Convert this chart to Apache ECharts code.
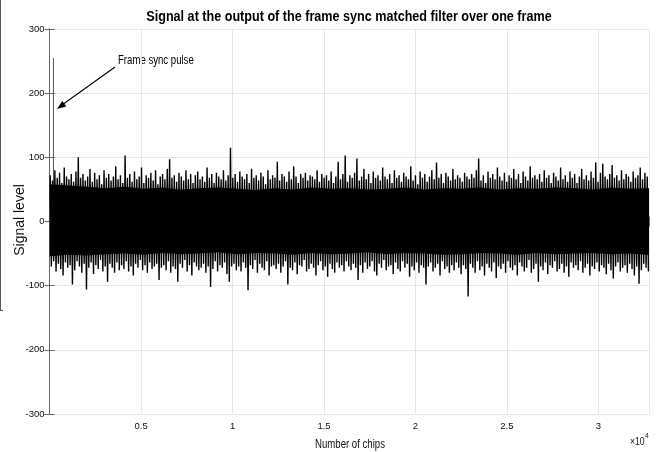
<!DOCTYPE html>
<html>
<head>
<meta charset="utf-8">
<script src="https://cdn.jsdelivr.net/npm/echarts@6/dist/echarts.min.js"></script>
<style>
html,body{margin:0;padding:0;background:#fff;}
#c{width:656px;height:452px;}
</style>
</head>
<body>
<div id="c"></div>
<script>
// ---- data ----
const frameLength = 32768;            // chips in one frame
const binChips = 128;                 // chips per envelope bin
// upper peak of the matched-filter output in each 128-chip bin
const peakHigh = [
   72, 64, 80, 68, 76, 60, 84, 70, 66, 74, 62, 78,100, 68, 74, 64,
   70, 82, 62, 76, 66, 72, 58, 80, 68, 74, 64, 70, 86, 66, 72, 60,
  103, 68, 74, 62, 78, 66, 70, 84, 60, 72, 68, 76, 64, 80, 58, 70,
   74, 66, 82, 97, 68, 72, 62, 76, 70, 64, 80, 66, 74, 60, 72, 78,
   66, 70, 62, 84, 68, 74, 60, 76, 70, 66, 80, 64, 72,115, 68, 74,
   62, 78, 70, 66, 74, 60, 82, 68, 72, 64, 76, 70, 58, 80, 66, 72,
   68, 93, 64, 74, 70, 62, 78, 66, 86, 70, 60, 74, 68, 76, 64, 72,
   70, 66, 80, 62, 74, 68, 72, 64, 78, 60, 70, 93, 66, 74,103, 62,
   72, 68, 76, 98, 64, 70, 82, 66, 74, 60, 78, 68, 72, 64, 84, 70,
   66, 74, 60, 80, 68, 72, 62, 76, 70, 66, 86, 64, 72, 58, 78, 68,
   74, 62, 70, 80, 66, 92, 68, 74, 60, 76, 70, 64, 82, 66, 72, 68,
   62, 76, 70, 66, 74, 68, 80, 98, 64, 72, 60, 78, 68, 74, 66, 84,
   70, 64, 76, 62, 72, 68, 82, 66, 74, 60, 78, 70, 64, 86, 68, 72,
   66, 74, 62, 80, 68, 72, 60, 76, 70, 64, 84, 66, 72, 62, 78, 68,
   74, 60, 70, 82, 66, 72, 64, 78, 68, 92, 62, 76, 90, 70, 66, 74,
   88, 68, 72, 64, 80, 66, 74, 70, 62, 78, 68, 72, 84, 66, 76, 70
];
// lower trough in each bin
const peakLow = [
   -70, -62, -78, -66, -74, -84, -64, -72, -68, -98, -76, -62, -70, -80, -66,-106,
   -72, -64, -82, -68, -74, -60, -78, -70, -94, -66, -72, -80, -64, -76, -68, -74,
   -62, -78, -70, -84, -66, -72, -60, -76, -68, -80, -64, -74, -70, -66, -91, -72,
   -68, -76, -62, -80, -70, -74, -94, -66, -72, -60, -78, -68, -84, -64, -70, -76,
   -72, -66, -80, -70,-102, -74, -62, -78, -68, -72, -64, -82, -94, -70, -66, -76,
   -70, -78, -64, -72,-107, -68, -74, -60, -80, -66, -72, -76, -62, -84, -70, -68,
   -74, -66, -80, -70, -62, -98, -72, -76, -64, -82, -68, -70, -60, -78, -74, -66,
   -72, -84, -68, -62, -76, -70, -86, -66, -74, -80, -64, -72, -68, -78, -62, -70,
   -76, -66, -72, -91, -68, -80, -64, -74, -70, -62, -78, -84, -66, -72, -60, -76,
   -70, -68, -82, -64, -74, -78, -62, -72, -66, -86, -70, -76, -64, -80, -68, -72,
   -98, -70, -64, -78, -72, -66, -84, -62, -74, -70, -80, -68, -76, -64, -72, -82,
   -68, -74,-117, -66, -72, -80, -62, -76, -70, -84, -66, -72, -78, -64, -88, -70,
   -74, -66, -80, -62, -72, -76, -68, -84, -64, -70, -78, -72, -60, -80, -74, -66,
   -94, -70, -76, -64, -82, -68, -72, -62, -78, -74, -66, -80, -70, -86, -64, -72,
   -68, -76, -62, -80, -72, -66, -84, -70, -74, -64, -78, -68, -72, -82, -66, -76,
   -89, -70, -64, -78, -72, -68, -80, -66, -74, -84, -70, -97, -76, -66, -72, -78
];
// dense core of the noise band, sampled every 1024 chips
const coreChips = [0,1024,2048,3072,4096,5120,6144,7168,8192,9216,10240,11264,12288,13312,14336,15360,16384,17408,18432,19456,20480,21504,22528,23552,24576,25600,26624,27648,28672,29696,30720,31744,32768];
const coreHigh = [58,56,54,52,54,51,53,50,52,53,51,49,52,50,53,51,52,50,51,53,50,52,51,53,50,52,51,53,52,50,53,51,52];
const coreLow  = [-54,-52,-53,-51,-50,-52,-49,-51,-50,-48,-51,-49,-50,-52,-49,-51,-50,-48,-51,-49,-50,-52,-51,-49,-50,-52,-49,-51,-50,-49,-51,-50,-52];
// frame sync pulse
const pulseChip = [210];
const pulseValue = [255];
// axis ticks
const yTicks = [-300,-200,-100,0,100,200,300];
const xTickStep = 5000;

// ---- build series data ----
const noise = [];
for (let i = 0; i < peakHigh.length; i++) {
  noise.push([(i + 0.25) * binChips, peakHigh[i]]);
  noise.push([(i + 0.75) * binChips, peakLow[i]]);
}
const coreTop = coreChips.map((c, i) => [c, coreHigh[i]]);
const coreBot = coreChips.map((c, i) => [c, coreLow[i]]);
const pulse = pulseChip.map((c, i) => [c, pulseValue[i]]);

const FN = "'Liberation Sans',Arial,sans-serif";
const chart = echarts.init(document.getElementById('c'), null, {renderer: 'canvas'});
const L = 49.6, T = 29, R = 649, B = 414;
const axisCommon = {
  axisLine: {show: true, lineStyle: {color: '#666', width: 1}},
  axisTick: {show: true, inside: true, length: 5, lineStyle: {color: '#666'}}
};
chart.setOption({
  animation: false,
  backgroundColor: '#fff',
  grid: {left: L, top: T, right: 656 - R, bottom: 452 - B, containLabel: false},
  xAxis: [Object.assign({
    type: 'value', min: 0, max: frameLength, interval: xTickStep, position: 'bottom',
    axisLabel: {
      color: '#111', fontFamily: FN, fontSize: 9.5, margin: 7,
      formatter: v => (v === 0 || v % xTickStep !== 0) ? '' : String(v / 10000)
    },
    splitLine: {show: true, lineStyle: {color: '#e6e6e6', width: 1}}
  }, axisCommon), Object.assign({
    type: 'value', min: 0, max: frameLength, interval: xTickStep, position: 'top',
    axisLabel: {show: false}, splitLine: {show: false}
  }, axisCommon)],
  yAxis: [Object.assign({
    type: 'value', min: yTicks[0], max: yTicks[yTicks.length - 1], interval: 100, position: 'left',
    axisLabel: {color: '#111', fontFamily: FN, fontSize: 9.5, margin: 5},
    splitLine: {show: true, lineStyle: {color: '#e6e6e6', width: 1}}
  }, axisCommon), Object.assign({
    type: 'value', min: yTicks[0], max: yTicks[yTicks.length - 1], interval: 100, position: 'right',
    axisLabel: {show: false}, splitLine: {show: false}
  }, axisCommon)],
  series: [
    {type: 'line', data: coreTop, symbol: 'none', lineStyle: {width: 0}, areaStyle: {color: '#000', opacity: 1, origin: 0}, silent: true},
    {type: 'line', data: coreBot, symbol: 'none', lineStyle: {width: 0}, areaStyle: {color: '#000', opacity: 1, origin: 0}, silent: true},
    {type: 'line', data: noise, symbol: 'none', lineStyle: {color: '#000', width: 1.4}, silent: true},
    {type: 'bar', data: pulse, barWidth: 1, itemStyle: {color: '#555'}, silent: true}
  ],
  graphic: [
    {type: 'text', x: 349, y: 17, scaleX: 0.9, style: {text: 'Signal at the output of the frame sync matched filter over one frame', font: 'bold 14px ' + FN, fill: '#000', align: 'center', verticalAlign: 'middle'}},
    {type: 'text', x: 350, y: 445, scaleX: 0.8, style: {text: 'Number of chips', font: '12px ' + FN, fill: '#111', align: 'center', verticalAlign: 'middle'}},
    {type: 'text', x: 20, y: 220, rotation: Math.PI / 2, style: {text: 'Signal level', font: '14px ' + FN, fill: '#111', align: 'center', verticalAlign: 'middle'}},
    {type: 'text', x: 630, y: 442, scaleX: 0.85, style: {text: '\u00d710', font: '10px ' + FN, fill: '#111', align: 'left', verticalAlign: 'middle'}},
    {type: 'text', x: 645, y: 436, scaleX: 0.85, style: {text: '4', font: '8px ' + FN, fill: '#111', align: 'left', verticalAlign: 'middle'}},
    {type: 'text', x: 118, y: 61, scaleX: 0.8, style: {text: 'Frame sync pulse', font: '12px ' + FN, fill: '#000', align: 'left', verticalAlign: 'middle'}},
    {type: 'line', z: 100, shape: {x1: 115, y1: 67, x2: 88.5, y2: 86}, style: {stroke: '#000', lineWidth: 1.1}},
    {type: 'line', z: 100, shape: {x1: 88.5, y1: 86, x2: 62, y2: 105}, style: {stroke: '#000', lineWidth: 1.1}},
    {type: 'polygon', z: 100, shape: {points: [[57, 109], [66.4, 106.6], [62.3, 100.9]]}, style: {fill: '#000'}},
    {type: 'line', shape: {x1: 0.5, y1: 0, x2: 0.5, y2: 310}, style: {stroke: '#555', lineWidth: 1}},
    {type: 'line', shape: {x1: 0, y1: 310.5, x2: 3, y2: 310.5}, style: {stroke: '#555', lineWidth: 1}}
  ]
});
</script>
</body>
</html>
